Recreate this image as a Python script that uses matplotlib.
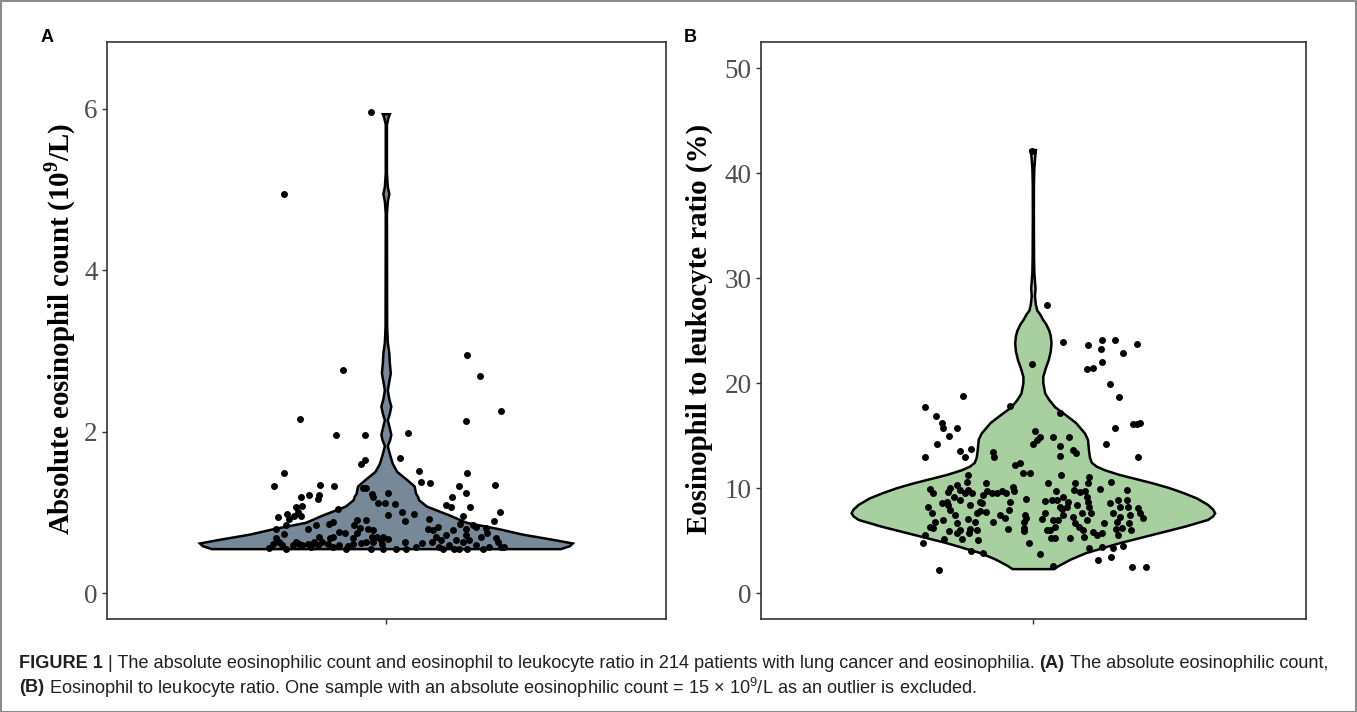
import numpy as np
import matplotlib.pyplot as plt
from matplotlib.patches import Rectangle

plt.rcParams['mathtext.fontset'] = 'custom'
plt.rcParams['mathtext.rm'] = 'Liberation Serif'
plt.rcParams['mathtext.bf'] = 'Liberation Serif:bold'
plt.rcParams['mathtext.sf'] = 'Liberation Sans'

# ---- data ----
# violin outlines: value level -> half width (relative, max = 1)
a_levels = [0.544, 0.58, 0.614, 0.655, 0.725, 0.79, 0.87, 0.96, 1.07, 1.15, 1.19, 1.23,
            1.32, 1.40, 1.50, 1.60, 1.70, 1.77, 1.82, 1.90, 1.96, 2.04, 2.14, 2.22, 2.31,
            2.40, 2.51, 2.62, 2.72, 2.85, 2.97, 3.10, 3.30, 4.70, 4.85, 4.94, 5.03, 5.20,
            5.80, 5.88, 5.93]
a_width = [176, 185, 188, 170, 137, 114, 81, 64, 41, 33, 32, 30,
           28.5, 21, 11, 6.5, 4, 2.5, 1.5, 4, 5, 3.5, 1.5, 3.5, 5,
           3, 1.5, 3, 4.5, 3.5, 3, 1.5, 0.8, 0.6, 1.5, 3, 1.5, 0.6,
           0.6, 2, 3.5]

b_levels = [2.28, 2.6, 3.2, 3.8, 4.75, 5.54, 6.33, 6.97, 7.3, 7.6, 7.95, 8.39, 9.0, 9.5,
            10.0, 10.46, 11.25, 11.7, 12.03, 12.4, 12.9, 13.6, 14.6, 15.2, 16.2, 17.0,
            17.7, 18.4, 19.0, 20.0, 20.6, 21.4, 22.2, 23.0, 23.8, 24.5, 25.0, 25.6, 26.0,
            26.6, 26.9, 27.5, 28.3, 29.0, 29.7, 30.5, 32, 36, 39, 40.5, 41.5, 42.2]
b_width = [21, 26, 38, 53, 87, 120, 153, 176, 181, 183, 181, 176, 165, 152,
           137, 120, 87, 72, 64, 59, 57, 56, 55, 52, 43, 32,
           22, 16, 12, 10, 10, 12.5, 15.5, 17.5, 18.3, 17.5, 16, 13, 10,
           6.5, 4, 2.5, 1.6, 2.2, 1.6, 1.0, 0.7, 0.5, 0.6, 1.0, 1.8, 2.6]

# jittered points: (horizontal offset, value)
a_points = [
    (-0.032, 5.96), (-0.219, 4.94), (-0.094, 2.76),
    (0.174, 2.95), (0.200, 2.69), (0.247, 2.26), (0.171, 2.13), (0.047, 1.98), (0.029, 1.67),
    (0.071, 1.51), (0.074, 1.37), (0.093, 1.36), (0.174, 1.49), (0.155, 1.32), (0.170, 1.24),
    (0.234, 1.34), (0.140, 1.19), (0.128, 1.09), (0.139, 1.06), (0.180, 1.06), (0.244, 1.00),
    (0.232, 0.89), (0.165, 0.96), (0.003, 1.24), (0.019, 1.10), (0.033, 1.01), (0.004, 0.97),
    (0.059, 0.98), (0.041, 0.89), (-0.029, 0.78), (-0.008, 0.70), (0.003, 0.67), (-0.028, 0.63),
    (0.039, 0.63), (0.021, 0.55), (-0.008, 0.55), (0.092, 0.92), (0.089, 0.79), (0.100, 0.78),
    (0.107, 0.70), (0.098, 0.63), (0.077, 0.62), (0.114, 0.57), (0.121, 0.55), (0.135, 0.59),
    (0.146, 0.55), (0.155, 0.55), (0.142, 0.78), (0.157, 0.86), (0.171, 0.79), (0.185, 0.84),
    (0.192, 0.82), (0.171, 0.72), (0.178, 0.66), (0.164, 0.63), (0.174, 0.55), (0.192, 0.59),
    (0.203, 0.70), (0.214, 0.80), (0.217, 0.74), (0.207, 0.55), (0.221, 0.57), (0.235, 0.68),
    (0.239, 0.63), (0.246, 0.57), (0.253, 0.57), (0.150, 0.66), (0.128, 0.72), (0.117, 0.66),
    (0.110, 0.82), (0.042, 0.55), (0.064, 0.57),
    (-0.185, 2.16), (-0.107, 1.96), (-0.046, 1.96), (-0.220, 1.49), (-0.240, 1.32), (-0.142, 1.34),
    (-0.112, 1.32), (-0.054, 1.60), (-0.046, 1.65), (-0.183, 1.19), (-0.167, 1.22), (-0.144, 1.21),
    (-0.147, 1.17), (-0.194, 1.07), (-0.180, 1.08), (-0.190, 1.01), (-0.183, 0.96), (-0.199, 0.96),
    (-0.233, 0.94), (-0.213, 0.98), (-0.208, 0.92), (-0.215, 0.84), (-0.237, 0.79), (-0.104, 1.04),
    (-0.051, 1.30), (-0.044, 1.30), (-0.031, 1.23), (-0.029, 1.19), (-0.017, 1.11), (-0.002, 1.11),
    (-0.122, 0.86), (-0.115, 0.88), (-0.152, 0.84), (-0.169, 0.79), (-0.062, 0.90), (-0.044, 0.90),
    (-0.069, 0.84), (-0.056, 0.80), (-0.062, 0.74), (-0.040, 0.79), (-0.089, 0.74), (-0.101, 0.76),
    (-0.121, 0.68), (-0.115, 0.70), (-0.144, 0.70), (-0.137, 0.63), (-0.155, 0.63), (-0.147, 0.59),
    (-0.187, 0.61), (-0.194, 0.63), (-0.219, 0.73), (-0.237, 0.68), (-0.230, 0.63), (-0.244, 0.61),
    (-0.223, 0.59), (-0.251, 0.56), (-0.215, 0.55), (-0.201, 0.59), (-0.180, 0.59), (-0.169, 0.61),
    (-0.162, 0.57), (-0.115, 0.57), (-0.101, 0.59), (-0.083, 0.58), (-0.086, 0.55), (-0.072, 0.61),
    (-0.054, 0.62), (-0.033, 0.55), (-0.019, 0.70), (-0.011, 0.66), (-0.009, 0.61), (-0.044, 0.63),
    (-0.031, 0.70), (-0.126, 0.61), (-0.072, 0.68),
]

b_points = [
    (-0.004, 42.1), (0.030, 27.4),
    (-0.154, 18.78), (-0.239, 17.74), (-0.215, 16.85), (-0.202, 16.22), (-0.198, 15.74),
    (-0.167, 15.74), (-0.186, 14.95), (-0.211, 14.19), (-0.161, 13.53), (-0.150, 12.93),
    (-0.138, 13.69), (-0.239, 12.93), (-0.207, 2.15), (-0.242, 4.75), (-0.239, 5.54),
    (-0.138, 3.96), (-0.110, 3.80), (0.015, 3.74), (0.044, 2.60),
    (-0.228, 9.88), (-0.220, 9.56), (-0.183, 10.04), (-0.169, 10.29), (-0.161, 9.82),
    (-0.150, 9.51), (-0.143, 9.82), (-0.136, 9.51), (-0.143, 11.25), (-0.147, 10.61),
    (-0.231, 8.23), (-0.224, 7.60), (-0.217, 6.81), (-0.228, 6.33), (-0.220, 6.18),
    (-0.191, 8.71), (-0.187, 8.39), (-0.183, 7.92), (-0.172, 7.44), (-0.169, 6.65),
    (-0.185, 5.95), (-0.167, 5.70), (-0.196, 5.13), (-0.158, 5.13), (-0.141, 5.70),
    (-0.143, 7.03), (-0.139, 8.39), (-0.128, 6.81), (-0.125, 6.02), (-0.121, 5.07),
    (-0.114, 8.61), (-0.117, 7.82), (-0.125, 7.60), (-0.104, 10.46), (-0.101, 9.75),
    (-0.092, 9.51), (-0.088, 13.46), (-0.086, 12.99), (-0.070, 9.75), (-0.060, 9.56),
    (-0.051, 8.71), (-0.044, 10.08), (-0.042, 9.75), (-0.089, 6.81), (-0.073, 7.44),
    (-0.062, 7.13), (-0.055, 6.08), (-0.040, 12.20), (-0.029, 12.36), (-0.023, 11.47),
    (-0.007, 11.47), (-0.016, 8.94), (-0.018, 7.44), (-0.017, 7.13), (-0.020, 6.81),
    (-0.020, 6.18), (-0.020, 5.92), (-0.009, 4.81), (-0.004, 21.8), (0.004, 15.43),
    (0.000, 14.19), (0.007, 14.57), (0.015, 14.89), (-0.051, 17.8), (0.043, 14.89),
    (0.059, 14.03), (0.059, 13.05), (0.079, 14.83), (0.087, 13.62), (0.094, 13.31),
    (0.059, 17.11), (0.066, 23.92), (0.061, 11.25), (0.032, 10.51), (0.040, 8.87),
    (0.026, 8.77), (0.050, 9.75), (0.059, 8.23), (0.062, 7.98), (0.066, 7.44),
    (0.055, 6.97), (0.044, 6.97), (0.037, 6.02), (0.048, 6.33), (0.039, 5.23),
    (0.048, 5.23), (0.081, 5.23), (0.090, 9.82), (0.092, 10.51), (0.103, 9.66),
    (0.114, 9.75), (0.121, 10.51), (0.123, 11.08), (0.118, 9.18), (0.121, 8.71),
    (0.123, 8.17), (0.088, 7.28), (0.092, 6.65), (0.101, 6.33), (0.110, 6.02),
    (0.112, 5.38), (0.123, 4.28), (0.140, 5.54), (0.151, 5.70), (0.147, 9.88),
    (0.151, 4.43), (0.143, 3.17), (0.169, 19.96), (0.189, 18.69), (0.180, 15.68),
    (0.160, 14.19), (0.121, 23.60), (0.149, 23.29), (0.151, 24.14), (0.180, 24.08),
    (0.198, 22.87), (0.228, 23.76), (0.151, 22.02), (0.118, 21.39), (0.131, 21.45),
    (0.220, 16.06), (0.228, 16.09), (0.235, 16.16), (0.231, 12.99), (0.170, 10.61),
    (0.187, 8.87), (0.191, 8.23), (0.169, 8.55), (0.176, 7.60), (0.191, 7.28),
    (0.185, 6.81), (0.182, 6.08), (0.195, 6.18), (0.206, 8.87), (0.209, 8.23),
    (0.213, 7.44), (0.211, 6.71), (0.215, 6.02), (0.206, 9.82), (0.231, 8.08),
    (0.235, 7.60), (0.242, 7.13), (0.175, 4.28), (0.170, 3.48), (0.198, 4.50),
    (0.217, 2.53), (0.248, 2.53), (0.018, 7.03), (0.029, 6.02), (0.026, 7.60),
    (0.051, 8.87), (0.076, 8.71), (0.065, 9.18), (0.074, 8.17), (0.095, 8.39),
    (0.107, 7.60), (0.118, 6.97), (0.126, 7.66), (0.156, 6.71), (0.132, 5.86),
    (0.187, 5.54), (-0.187, 9.66), (-0.175, 9.18), (-0.161, 8.87), (-0.110, 9.34),
    (-0.081, 9.51), (-0.117, 8.71), (-0.104, 7.76), (-0.198, 6.97), (-0.161, 6.02),
    (-0.139, 6.08), (-0.202, 8.55), (-0.053, 7.92),
]

a_ticks = [0, 2, 4, 6]
b_ticks = [0, 10, 20, 30, 40, 50]
a_ylabel = 'Absolute eosinophil count (10$^{\\mathbf{9}}$/L)'
b_ylabel = 'Eosinophil to leukocyte ratio (%)'

W, H = 1357, 712
fig = plt.figure(figsize=(W / 100, H / 100), dpi=100)


def panel(rect, levels, width, points, fill, ylim, ticks, ylabel, label_x):
    ax = fig.add_axes(rect)
    lv = np.array(levels)
    hw = np.array(width) / max(width) * 0.40
    xs = np.concatenate([1 - hw, (1 + hw)[::-1]])
    ys = np.concatenate([lv, lv[::-1]])
    ax.fill(xs, ys, facecolor=fill, edgecolor='black', linewidth=1.8, zorder=2)
    pts = np.array(points)
    ax.scatter(1 + pts[:, 0], pts[:, 1], s=25, color='black', linewidths=0, zorder=3)
    ax.set_xlim(0.4, 1.6)
    ax.set_ylim(*ylim)
    ax.set_xticks([1])
    ax.set_xticklabels([''])
    ax.set_yticks(ticks)
    ax.set_yticklabels([str(t) for t in ticks], fontfamily='Liberation Serif',
                       fontsize=19.5, color='#4d4d4d')
    ax.tick_params(length=3.5, width=1.0, color='#333333', pad=3)
    for s in ax.spines.values():
        s.set_color('#333333')
        s.set_linewidth(1.2)
    fig.text(label_x / W, 1 - 329 / H, ylabel, rotation=90, ha='center', va='center',
             fontfamily='Liberation Serif', fontweight='bold', fontsize=20.8)
    return ax


panel([106.7 / W, 1 - 619.3 / H, (666 - 106.7) / W, (619.3 - 42) / H],
      a_levels, a_width, a_points, '#778899', (-0.325, 6.825), a_ticks, a_ylabel, 60)
panel([760.7 / W, 1 - 619.3 / H, (1306 - 760.7) / W, (619.3 - 42) / H],
      b_levels, b_width, b_points, '#a7cfa0', (-2.5, 52.5), b_ticks, b_ylabel, 699)

fig.text(47 / W, 1 - 38 / H, 'A', fontfamily='Liberation Sans', fontweight='bold',
         fontsize=13, ha='center', va='center')
fig.text(690 / W, 1 - 37 / H, 'B', fontfamily='Liberation Sans', fontweight='bold',
         fontsize=13, ha='center', va='center')

# caption with bold and regular runs
renderer = fig.canvas.get_renderer()
cap_kw = dict(fontfamily='Liberation Sans', fontsize=13.1, color='#231f20', va='center')
probe1 = fig.text(0, 0, 'a a', **cap_kw)
probe2 = fig.text(0, 0, 'aa', **cap_kw)
space = (probe1.get_window_extent(renderer).width - probe2.get_window_extent(renderer).width)
probe1.remove()
probe2.remove()


def runs(y, parts):
    x = 19
    for txt, weight in parts:
        t = fig.text(x / W, y, txt, fontweight=weight, **cap_kw)
        x += t.get_window_extent(renderer).width + space


runs(1 - 663 / H, [('FIGURE 1', 'bold'),
                   ('| The absolute eosinophilic count and eosinophil to leukocyte ratio in 214 '
                    'patients with lung cancer and eosinophilia.', 'normal'),
                   ('(A)', 'bold'), ('The absolute eosinophilic count,', 'normal')])
runs(1 - 688 / H, [('(B)', 'bold'),
                   ('Eosinophil to leukocyte ratio. One sample with an absolute eosinophilic '
                    'count = 15 \u00d7 10$^{\\mathsf{9}}$/L as an outlier is excluded.', 'normal')])

fig.add_artist(Rectangle((0.5 / W, 0.5 / H), (W - 1.5) / W, (H - 1.5) / H,
                         transform=fig.transFigure, fill=False, edgecolor='#8c8c8c', linewidth=1.5))

fig.savefig('out.png', dpi=100)
